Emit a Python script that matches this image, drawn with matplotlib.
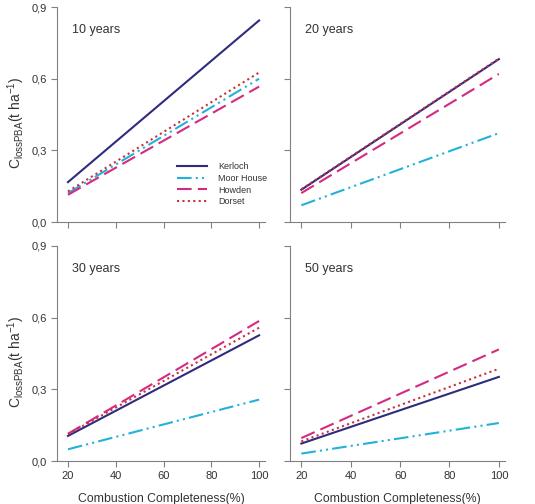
import matplotlib
matplotlib.use('Agg')
import matplotlib.pyplot as plt

plt.rcParams['font.family'] = ['Liberation Sans', 'DejaVu Sans']
plt.rcParams['mathtext.fontset'] = 'custom'
plt.rcParams['mathtext.rm'] = 'Liberation Sans'
plt.rcParams['mathtext.it'] = 'Liberation Sans:italic'

# combustion completeness (%) at the line ends
completeness = [20, 100]
panels = ['10 years', '20 years', '30 years', '50 years']

# C loss PBA (t ha-1) per site, one pair of values per panel
kerloch = [[0.167, 0.844], [0.135, 0.682], [0.105, 0.526], [0.073, 0.352]]
moor_house = [[0.121, 0.600], [0.070, 0.372], [0.049, 0.257], [0.031, 0.159]]
howden = [[0.114, 0.567], [0.121, 0.620], [0.114, 0.586], [0.096, 0.467]]
dorset = [[0.128, 0.626], [0.137, 0.684], [0.112, 0.558], [0.082, 0.386]]

sites = ['Kerloch', 'Moor House', 'Howden', 'Dorset']
series = [kerloch, moor_house, howden, dorset]
colors = ['#2e2c7e', '#22b2d8', '#d42a80', '#c8303c']
styles = ['-', (0, (7, 2, 1, 2, 1, 2)), (0, (7, 3)), (0, (1, 1.6))]

yticks = [0.0, 0.3, 0.6, 0.9]
xticks = [20, 40, 60, 80, 100]
textcol = '#333333'
spinecol = '#808080'

fig = plt.figure(figsize=(5.35, 5.04), dpi=100)
boxes = [[0.1065, 0.5595, 0.389, 0.4265],
         [0.542, 0.5595, 0.402, 0.4265],
         [0.1065, 0.0853, 0.389, 0.4267],
         [0.542, 0.0853, 0.402, 0.4267]]

for i in range(4):
    ax = fig.add_axes(boxes[i])
    for s in range(len(sites)):
        ax.plot(completeness, series[s][i], color=colors[s], linestyle=styles[s],
                linewidth=1.5, label=sites[s])
    ax.set_xlim(15.4, 102.5)
    ax.set_ylim(0, 0.9)
    ax.set_yticks(yticks)
    ax.set_xticks(xticks)
    ax.spines['top'].set_visible(False)
    ax.spines['right'].set_visible(False)
    ax.spines['left'].set_color(spinecol)
    ax.spines['bottom'].set_color(spinecol)
    ax.tick_params(direction='out', length=4, color=spinecol, labelcolor=textcol,
                   labelsize=8)
    ax.text(0.07, 0.88, panels[i], transform=ax.transAxes, fontsize=9, color=textcol)
    if i % 2 == 0:
        ax.set_yticklabels(['0,0', '0,3', '0,6', '0,9'])
        ax.set_ylabel(r'C$_{\mathrm{lossPBA}}$(t ha$^{-1}$)', fontsize=10, color=textcol)
        ax.yaxis.set_label_coords(-0.145, 0.46)
    else:
        ax.set_yticklabels([])
    if i >= 2:
        ax.set_xlabel('Combustion Completeness(%)', fontsize=8.8, color=textcol, labelpad=8)
    else:
        ax.set_xticklabels([])
    if i == 0:
        leg = ax.legend(loc='lower right', bbox_to_anchor=(1.05, 0.035), frameon=False,
                        fontsize=6.5, handlelength=3.3, labelspacing=0.3,
                        handletextpad=1.3)
        for t in leg.get_texts():
            t.set_color(textcol)

fig.savefig('out.png', dpi=100)
